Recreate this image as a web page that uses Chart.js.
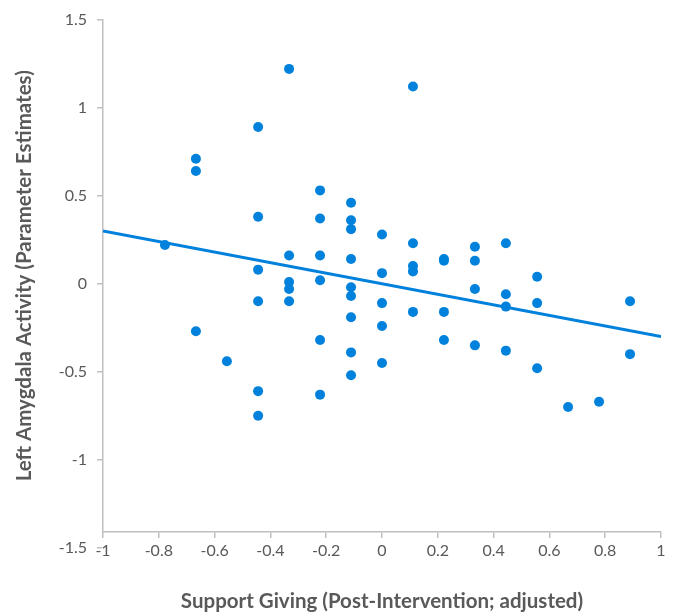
<!DOCTYPE html>
<html>
<head>
<meta charset="utf-8">
<script src="https://cdn.jsdelivr.net/npm/chart.js@4"></script>
<style>
  html, body { margin: 0; padding: 0; background: #fff; }
  #wrap { width: 678px; height: 615px; }
</style>
</head>
<body>
<div id="wrap"><canvas id="scatter"></canvas></div>
<script>
// support giving (x) and left amygdala activity (y)
var supportX = [
    -0.778,
    -0.667, -0.667, -0.667,
    -0.556,
    -0.444, -0.444, -0.444, -0.444, -0.444, -0.444,
    -0.333, -0.333, -0.333, -0.333, -0.333,
    -0.222, -0.222, -0.222, -0.222, -0.222, -0.222,
    -0.111, -0.111, -0.111, -0.111, -0.111, -0.111, -0.111, -0.111, -0.111,
    0, 0, 0, 0, 0,
    0.111, 0.111, 0.111, 0.111, 0.111,
    0.222, 0.222, 0.222, 0.222,
    0.333, 0.333, 0.333, 0.333,
    0.444, 0.444, 0.444, 0.444,
    0.556, 0.556, 0.556,
    0.667,
    0.778,
    0.889, 0.889
];
var amygdalaY = [
    0.22,
    0.71, 0.64, -0.27,
    -0.44,
    0.89, 0.38, 0.08, -0.10, -0.61, -0.75,
    1.22, 0.16, 0.01, -0.03, -0.10,
    0.53, 0.37, 0.16, 0.02, -0.32, -0.63,
    0.46, 0.36, 0.31, 0.14, -0.02, -0.07, -0.19, -0.39, -0.52,
    0.28, 0.06, -0.11, -0.24, -0.45,
    1.12, 0.23, 0.10, 0.07, -0.16,
    0.14, 0.13, -0.16, -0.32,
    0.21, 0.13, -0.03, -0.35,
    0.23, -0.06, -0.13, -0.38,
    0.04, -0.11, -0.48,
    -0.70,
    -0.67,
    -0.10, -0.40
];

// fitted trend line end points
var trendX = [-1, 1];
var trendY = [0.30, -0.30];

var xTicks = [-1, -0.8, -0.6, -0.4, -0.2, 0, 0.2, 0.4, 0.6, 0.8, 1];
var yTicks = [-1.5, -1, -0.5, 0, 0.5, 1, 1.5];

var blue = '#0082DC';
var axisGray = '#BFBFBF';
var textGray = '#595959';

var points = supportX.map(function (x, i) { return { x: x, y: amygdalaY[i] }; });
var trend = trendX.map(function (x, i) { return { x: x, y: trendY[i] }; });

function fmt(v) {
    return String(Math.round(v * 10) / 10);
}

var ctx = document.getElementById('scatter').getContext('2d');
var myChart = new Chart(ctx, {
    type: 'scatter',
    data: {
        datasets: [{
            label: 'Participants',
            data: points,
            backgroundColor: blue,
            borderColor: blue,
            pointRadius: 5,
            pointBorderWidth: 0
        },
            {
                label: 'Trend',
                type: 'line',
                data: trend,
                borderColor: blue,
                borderWidth: 3,
                pointRadius: 0,
                fill: false
            }
        ]
    },
    options: {
        responsive: true,
        maintainAspectRatio: false,
        animation: false,
        layout: {
            padding: { left: 0, right: 17, top: 19, bottom: 0 }
        },
        plugins: {
            legend: { display: false },
            tooltip: { enabled: false }
        },
        scales: {
            x: {
                type: 'linear',
                min: -1,
                max: 1,
                afterBuildTicks: function (scale) {
                    scale.ticks = xTicks.map(function (v) { return { value: v }; });
                },
                afterFit: function (scale) { scale.height = 83; },
                grid: {
                    drawOnChartArea: false,
                    drawTicks: true,
                    tickLength: 6,
                    color: axisGray,
                    lineWidth: 1.5
                },
                border: { display: true, color: axisGray, width: 1.5 },
                ticks: {
                    autoSkip: false,
                    maxRotation: 0,
                    padding: 3,
                    color: textGray,
                    font: { family: 'Lato', size: 16 },
                    callback: fmt
                },
                title: {
                    display: true,
                    text: 'Support Giving (Post-Intervention; adjusted)',
                    color: textGray,
                    font: { family: 'Lato', size: 20.5, weight: 'bold' },
                    padding: { top: 0, bottom: 1 }
                }
            },
            y: {
                type: 'linear',
                min: -1.41,
                max: 1.5,
                afterBuildTicks: function (scale) {
                    scale.ticks = yTicks.map(function (v) { return { value: v }; });
                },
                afterFit: function (scale) { scale.width = 103; },
                grid: {
                    drawOnChartArea: false,
                    drawTicks: true,
                    tickLength: 6,
                    color: axisGray,
                    lineWidth: 1.5
                },
                border: { display: true, color: axisGray, width: 1.5 },
                ticks: {
                    autoSkip: false,
                    padding: 10,
                    color: textGray,
                    font: { family: 'Lato', size: 16 },
                    callback: fmt
                },
                title: {
                    display: true,
                    text: 'Left Amygdala Activity (Parameter Estimates)',
                    color: textGray,
                    font: { family: 'Lato', size: 20.5, weight: 'bold' },
                    padding: { top: 12.5, bottom: 0 }
                }
            }
        }
    }
});
</script>
</body>
</html>
